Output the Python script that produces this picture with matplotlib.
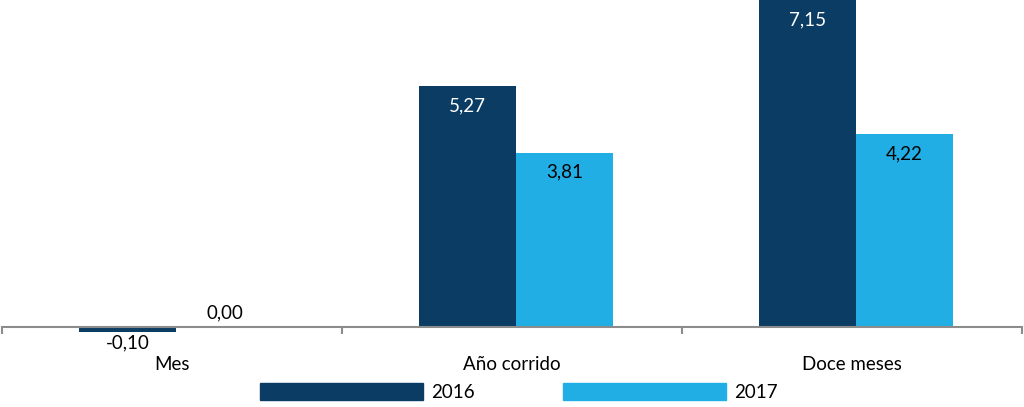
import matplotlib.pyplot as plt
from matplotlib.patches import Rectangle

# DONNEES
categorias = ["Mes", "Año corrido", "Doce meses"]
serie_2016 = [-0.10, 5.27, 7.15]
serie_2017 = [0.00, 3.81, 4.22]
anios = ["2016", "2017"]

color_2016 = "#0B3C63"
color_2017 = "#20AEE4"

plt.rcParams["font.family"] = ["Lato", "DejaVu Sans"]
fs = 13.5

fig = plt.figure(figsize=(10.24, 4.07), dpi=100)
ax = fig.add_axes([0.002, 1 - 341 / 407, 0.996, 341 / 407])

ancho = 0.285
x = range(len(categorias))
x1 = [i - ancho / 2 + 0.012 for i in x]
x2 = [i + ancho / 2 + 0.012 for i in x]

b1 = ax.bar(x1, serie_2016, width=ancho, color=color_2016)
b2 = ax.bar(x2, serie_2017, width=ancho, color=color_2017)

ax.set_xlim(-0.5, 2.5)
ax.set_ylim(-0.307, 7.15)

def fmt(v):
    return f"{v:.2f}".replace(".", ",")

for xi, v in zip(x1, serie_2016):
    if v > 0.5:
        ax.annotate(fmt(v), (xi, v), xytext=(0, -14), textcoords="offset points",
                    ha="center", va="center", color="white", fontsize=fs)
    else:
        ax.annotate(fmt(v), (xi, v), xytext=(0, -8), textcoords="offset points",
                    ha="center", va="center", color="black", fontsize=fs)
for xi, v in zip(x2, serie_2017):
    if v > 0.5:
        ax.annotate(fmt(v), (xi, v), xytext=(0, -14), textcoords="offset points",
                    ha="center", va="center", color="black", fontsize=fs)
    else:
        ax.annotate(fmt(v), (xi, v), xytext=(0, 10), textcoords="offset points",
                    ha="center", va="center", color="black", fontsize=fs)

# axe
for s in ["top", "right", "left"]:
    ax.spines[s].set_visible(False)
ax.spines["bottom"].set_position(("data", 0))
ax.spines["bottom"].set_color("#8c8c8c")
ax.spines["bottom"].set_linewidth(1.5)
ax.set_yticks([])
ax.set_xticks([-0.5, 0.5, 1.5, 2.5])
ax.set_xticklabels([])
ax.tick_params(axis="x", which="major", length=5, width=1.5, color="#8c8c8c")
ax.set_xticks(list(x), minor=True)
ax.set_xticklabels(categorias, minor=True)
ax.tick_params(axis="x", which="minor", length=0, pad=21, labelsize=fs)

# legende
for i, (a, c) in enumerate(zip(anios, [color_2016, color_2017])):
    x0 = [260, 563][i] / 1024
    fig.add_artist(Rectangle((x0, 1 - 400 / 407), 163 / 1024, 17 / 407,
                             transform=fig.transFigure, color=c))
    fig.text(x0 + 171 / 1024, 1 - 392 / 407, a, ha="left", va="center", fontsize=fs)

plt.savefig("out.png", dpi=100)
